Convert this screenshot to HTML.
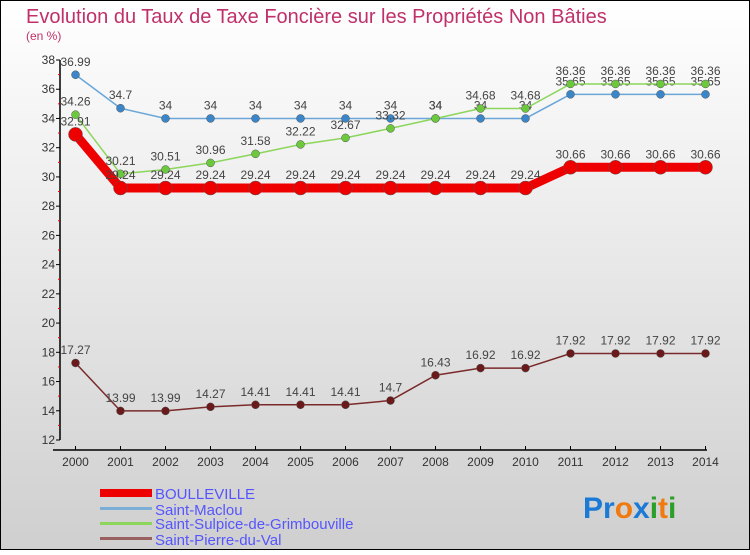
<!DOCTYPE html>
<html><head><meta charset="utf-8"><style>
body{margin:0;width:750px;height:550px;overflow:hidden;font-family:"Liberation Sans",sans-serif;}
svg text{font-family:"Liberation Sans",sans-serif;}
</style></head><body>
<svg width="750" height="550" xmlns="http://www.w3.org/2000/svg">
<defs><linearGradient id="bg" x1="0" y1="0" x2="0" y2="1"><stop offset="0" stop-color="#ffffff"/><stop offset="1" stop-color="#cfcfcf"/></linearGradient></defs>
<rect x="0.5" y="0.5" width="749" height="549" fill="url(#bg)" stroke="#000"/>
<text x="26" y="23" font-size="20" fill="#c0306a">Evolution du Taux de Taxe Foncière sur les Propriétés Non Bâties</text>
<text x="26" y="40" font-size="12" fill="#c0306a">(en %)</text>
<g id="axes"></g>
<g id="series"></g>
<g id="legend">
<rect x="100" y="489" width="52" height="8" fill="#e00"/>
<text x="155" y="499" font-size="15" fill="#55f">BOULLEVILLE</text>
<rect x="100" y="507" width="52" height="3" fill="#7aaed6"/>
<text x="155" y="515" font-size="15" fill="#55f">Saint-Maclou</text>
<rect x="100" y="522" width="52" height="3" fill="#8cd65c"/>
<text x="155" y="529" font-size="15" fill="#55f">Saint-Sulpice-de-Grimbouville</text>
<rect x="100" y="537" width="52" height="3" fill="#9a6060"/>
<text x="155" y="545" font-size="15" fill="#55f">Saint-Pierre-du-Val</text>
</g>
<text x="583" y="518" font-size="30" font-weight="bold"><tspan fill="#1a7ad6">Pr</tspan><tspan fill="#f07a10">o</tspan><tspan fill="#1a7ad6">x</tspan><tspan fill="#2aa02a">i</tspan><tspan fill="#f07a10">t</tspan><tspan fill="#2aa02a">i</tspan></text>
</svg>
<script>
const years=[2000,2001,2002,2003,2004,2005,2006,2007,2008,2009,2010,2011,2012,2013,2014];
const yTicks=[12,14,16,18,20,22,24,26,28,30,32,34,36,38];
const boulleville=[32.91,29.24,29.24,29.24,29.24,29.24,29.24,29.24,29.24,29.24,29.24,30.66,30.66,30.66,30.66];
const saintMaclou=[36.99,34.7,34,34,34,34,34,34,34,34,34,35.65,35.65,35.65,35.65];
const saintSulpice=[34.26,30.21,30.51,30.96,31.58,32.22,32.67,33.32,34,34.68,34.68,36.36,36.36,36.36,36.36];
const saintPierre=[17.27,13.99,13.99,14.27,14.41,14.41,14.41,14.7,16.43,16.92,16.92,17.92,17.92,17.92,17.92];
const NS="http://www.w3.org/2000/svg";
const x=i=>75.5+i*(705.5-75.5)/(years.length-1);
const y=v=>60+(38-v)*(440-60)/26;
const fmt=v=>String(+v.toFixed(2));
function mk(tag,attrs,parent){const e=document.createElementNS(NS,tag);for(const k in attrs)e.setAttribute(k,attrs[k]);parent.appendChild(e);return e;}
const ax=document.getElementById('axes');
let l=mk('line',{x1:60,y1:y(38),x2:60,y2:y(12),stroke:'#000','stroke-width':1.5},ax);


l=mk('line',{x1:53,y1:450,x2:707,y2:450,stroke:'#000','stroke-width':1.5},ax);


yTicks.forEach(v=>{
 let t=mk('line',{x1:56,y1:y(v),x2:60,y2:y(v),stroke:'#000'},ax);
 
 
 if(v<38){let m=mk('line',{x1:58,y1:y(v+1),x2:60,y2:y(v+1),stroke:'#e00'},ax);
 
 }
 let tx=mk('text',{x:55,y:y(v)+4,'font-size':12,fill:'#333','text-anchor':'end'},ax);
 tx.textContent=v;
 
 
});
years.forEach((yr,i)=>{
 let t=mk('line',{x1:x(i),y1:446,x2:x(i),y2:450,stroke:'#000'},ax);
 
 
 let tx=mk('text',{x:x(i),y:466,'font-size':12,fill:'#333','text-anchor':'middle'},ax);
 tx.textContent=yr;
 
 
});
const sg=document.getElementById('series');
function draw(data,name,color,dot,w,r){
 const g=mk('g',{},sg);
 
 
 const p=mk('polyline',{points:data.map((v,i)=>x(i)+','+y(v)).join(' '),fill:'none',stroke:color,'stroke-width':w,'stroke-linejoin':'round'},g);
 
 
 data.forEach((v,i)=>{
  const c=mk('circle',{cx:x(i),cy:y(v),r:r,fill:dot,stroke:'#555','stroke-width':0.5},g);
  
  
  const t=mk('text',{x:x(i),y:y(v)-9,'font-size':12,fill:'#444','text-anchor':'middle'},g);
  t.textContent=fmt(v);
  
  
 });
}
draw(saintPierre,'saint-pierre','#7a2a2a','#6a1a1a',1.5,4);
draw(saintMaclou,'saint-maclou','#6aa6d8','#3a86c8',1.5,4);
draw(saintSulpice,'saint-sulpice','#8cd65c','#6cc83c',1.5,4);
draw(boulleville,'boulleville','#e00','#e00',9,7);
</script>
</body></html>
